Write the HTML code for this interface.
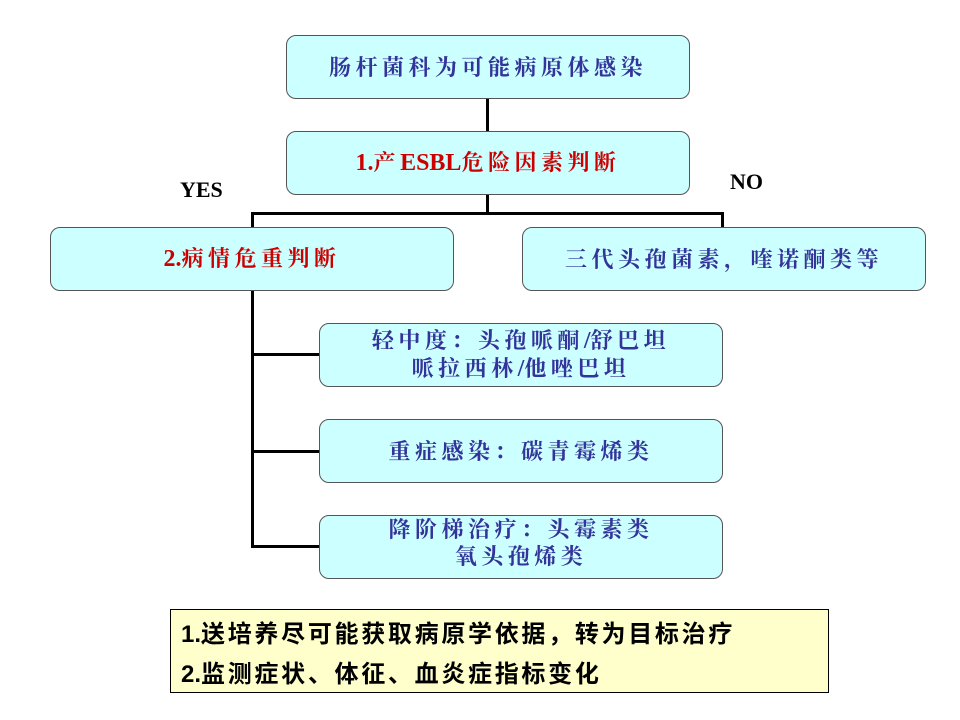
<!DOCTYPE html>
<html><head><meta charset="utf-8"><style>
body{margin:0;width:960px;height:720px;background:#fff;position:relative;overflow:hidden;font-family:"Liberation Serif","Noto Serif CJK SC",serif}
.b{position:absolute;background:#ccffff;border:1.5px solid #555;border-radius:10px;box-sizing:border-box;display:flex;align-items:center;justify-content:center;text-align:center;color:#333399;font-size:22px;font-weight:bold;line-height:27px;letter-spacing:4.5px}
.n{letter-spacing:0;font-size:24px}
.l{position:absolute;background:#000}
.t{position:absolute;font-weight:bold;font-size:22px;color:#000;font-family:"Liberation Serif",serif}
</style></head><body>
<div class="l" style="left:486px;top:98px;width:3px;height:33px"></div>
<div class="l" style="left:486px;top:194px;width:3px;height:20px"></div>
<div class="l" style="left:251px;top:212px;width:473px;height:3px"></div>
<div class="l" style="left:251px;top:212px;width:3px;height:15px"></div>
<div class="l" style="left:721px;top:212px;width:3px;height:15px"></div>
<div class="l" style="left:251px;top:290px;width:3px;height:258px"></div>
<div class="l" style="left:251px;top:353px;width:68px;height:3px"></div>
<div class="l" style="left:251px;top:450px;width:68px;height:3px"></div>
<div class="l" style="left:251px;top:545px;width:68px;height:3px"></div>
<div class="b" style="left:286px;top:35px;width:404px;height:64px">肠杆菌科为可能病原体感染</div>
<div class="b" style="left:286px;top:131px;width:404px;height:64px;color:#cc0000"><span><span class="n">1.</span>产<span class="n">ESBL</span>危险因素判断</span></div>
<div class="t" style="left:180px;top:177px">YES</div>
<div class="t" style="left:730px;top:169px">NO</div>
<div class="b" style="left:50px;top:227px;width:404px;height:64px;color:#cc0000"><span><span class="n">2.</span>病情危重判断</span></div>
<div class="b" style="left:522px;top:227px;width:404px;height:64px">三代头孢菌素，喹诺酮类等</div>
<div class="b" style="left:319px;top:323px;width:404px;height:64px"><span>轻中度：头孢哌酮<span class="n">/</span>舒巴坦<br>哌拉西林<span class="n">/</span>他唑巴坦</span></div>
<div class="b" style="left:319px;top:419px;width:404px;height:64px">重症感染：碳青霉烯类</div>
<div class="b" style="left:319px;top:515px;width:404px;height:64px;align-items:flex-start;padding-top:0">降阶梯治疗：头霉素类<br>氧头孢烯类</div>
<div style="position:absolute;left:170px;top:609px;width:659px;height:84px;background:#ffffcc;border:1.5px solid #000;box-sizing:border-box;font-family:'Liberation Sans','Noto Sans CJK SC',sans-serif;font-size:24px;font-weight:bold;color:#000;letter-spacing:2.7px">
<div style="position:absolute;top:4px;left:10px;white-space:nowrap"><span style="letter-spacing:0">1.</span>送培养尽可能获取病原学依据，转为目标治疗</div>
<div style="position:absolute;top:44px;left:10px;white-space:nowrap"><span style="letter-spacing:0">2.</span>监测症状、体征、血炎症指标变化</div>
</div>
</body></html>
